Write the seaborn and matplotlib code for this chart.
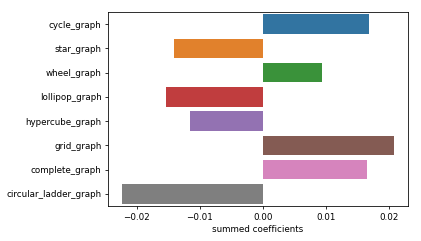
import matplotlib
matplotlib.use("Agg")
import matplotlib.pyplot as plt
import seaborn as sns
import pandas as pd

categories = ["cycle_graph", "star_graph", "wheel_graph", "lollipop_graph",
              "hypercube_graph", "grid_graph", "complete_graph", "circular_ladder_graph"]
values = [0.0168, -0.0141, 0.0094, -0.0154, -0.0115, 0.0208, 0.0164, -0.0224]

df = pd.DataFrame({"graph": categories, "coef": values})

plt.rcParams["font.family"] = ["DejaVu Sans"]
plt.rcParams["font.size"] = 8.8
plt.rcParams["xtick.major.size"] = 3
plt.rcParams["ytick.major.size"] = 3
fig = plt.figure(figsize=(421/72, 241/72), dpi=72)
ax = fig.add_axes([108/421, 1-206/241, 300/421, 194/241])
sns.barplot(data=df, x="coef", y="graph", hue="graph", palette="tab10",
            legend=False, ax=ax, saturation=0.75)
ax.set_xlabel("summed coefficients")
ax.set_ylabel("")
ax.set_xticks([-0.02, -0.01, 0.0, 0.01, 0.02])
ax.set_xticklabels(["\u22120.02", "\u22120.01", "0.00", "0.01", "0.02"])
fig.savefig("out.png", dpi=72)
